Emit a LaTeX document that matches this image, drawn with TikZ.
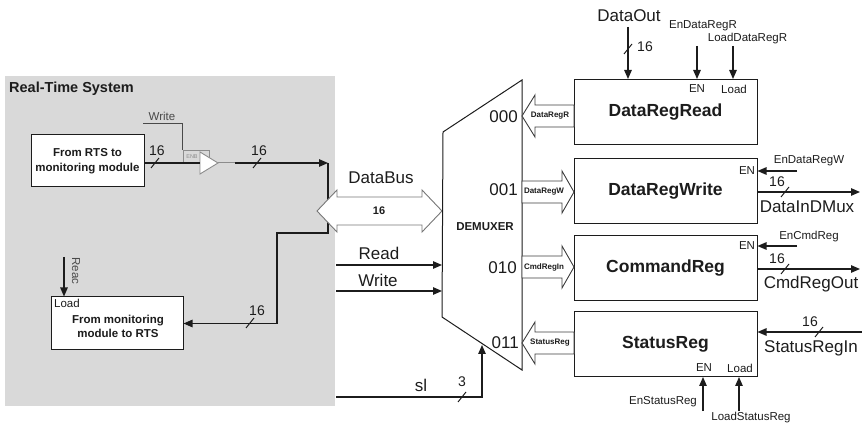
\documentclass[tikz,border=0pt]{standalone}
\usepackage{fontspec}
\setmainfont{Liberation Sans}
\usetikzlibrary{arrows.meta}
\definecolor{rtsgray}{RGB}{217,217,217}
\definecolor{ink}{RGB}{28,28,28}
\definecolor{soft}{RGB}{140,140,140}
\newcommand\szbig{\fontsize{17}{20}\selectfont}
\newcommand\szreg{\bfseries\fontsize{17.5}{20}\selectfont}
\newcommand\szmid{\fontsize{14}{16}\selectfont}
\newcommand\szsmall{\fontsize{11.5}{13}\selectfont}
\newcommand\szhollow{\bfseries\fontsize{8}{9}\selectfont}
% hollow bus arrows: tip/tail x, centre y, label
\newcommand\hollowleft[3]{%
  \draw[hollow] (#1,#2) -- ++(13,-21) -- ++(0,10) -- ++(39,0) -- ++(0,22)
    -- ++(-39,0) -- ++(0,10) -- cycle;
  \node[txt,font=\szhollow] at (#1+28,#2) {#3};}
\newcommand\hollowright[3]{%
  \draw[hollow] (#1,#2-11) -- ++(40,0) -- ++(0,-10) -- ++(12,21) -- ++(-12,21)
    -- ++(0,-10) -- ++(-40,0) -- cycle;
  \node[txt,font=\szhollow] at (#1+22,#2) {#3};}
\begin{document}
\begin{tikzpicture}[x=1pt,y=-1pt,
  txt/.style={inner sep=0pt,text=ink},
  wire/.style={draw=ink,line width=1.2pt},
  arr/.style={wire,-{Triangle[length=9pt,width=7.5pt]}},
  box/.style={draw=ink,line width=1pt,fill=white,inner sep=0pt},
  regbox/.style={box,minimum width=183pt,minimum height=65pt,font=\szreg,text=ink},
  hollow/.style={draw=ink!85,line width=0.9pt,fill=white,line join=miter},
  bustick/.pic={\draw[ink,line width=1pt] (-4,5) -- (4,-5);}]
\useasboundingbox (0,0) rectangle (862,427);

% ---------------- real-time system ----------------
\fill[rtsgray] (5,76) rectangle (335,406);
\node[txt,anchor=base west,font=\bfseries\fontsize{14.5}{16}\selectfont] (rtstitle) at (9,93) {Real-Time System};

\node[box,minimum width=113pt,minimum height=52pt,align=center,
      font=\bfseries\fontsize{11.5}{15}\selectfont,text=ink] (rts) at (87.5,161) {From RTS to\\monitoring module};
\node[box,minimum width=132pt,minimum height=53pt] (mtr) at (117,323.5) {};
\node[txt,align=center,font=\bfseries\fontsize{11.5}{14}\selectfont] (mtrtext) at (118,326) {From monitoring\\module to RTS};
\node[txt,font=\szsmall] (mtrload) at (67,303) {Load};

% read strobe into the lower box
\coordinate (reacin) at (64,257);
\draw[arr] (reacin) -- (reacin |- mtr.north);
\node[txt,rotate=-90,font=\szsmall,text=ink!80] (reaclbl) at (76,271) {Reac};

% tri-state buffer with enable
\coordinate (bufin) at (200,163);
\coordinate (bufout) at (218,163);
\coordinate (busin) at (235,163);
\draw[soft,line width=0.8pt] (183,150) rectangle (209,163);
\node[txt,font=\fontsize{5.5}{6}\selectfont,text=soft] (enblbl) at (192,157) {ENB};
\draw[soft,line width=0.9pt,fill=white] (bufin |- 0,152) -- (bufout) -- (bufin |- 0,174) -- cycle;
\node[txt,font=\szsmall,text=ink!80] (wrlbl) at (162,116) {Write};
\draw[ink!80,line width=1pt] (143,124) -- (182.5,124) -- (182.5,150);

% data path through the system
\coordinate (j1) at (328,163);
\coordinate (j2) at (328,233);
\coordinate (j3) at (277,233);
\draw[wire] (rts.east |- bufin) -- (bufin);
\draw[soft,line width=1pt] (bufout) -- (busin);
\draw[arr] (busin) -- (j1);
\draw[arr] (j1) -- (j2) -- (j3) |- (mtr.east);
\pic at (155,163) {bustick};
\node[txt,font=\szmid] (w1) at (157,151) {16};
\pic at (257,163) {bustick};
\node[txt,font=\szmid] (w2) at (259,151) {16};
\pic at (250,323) {bustick};
\node[txt,font=\szmid] (w3) at (257,311) {16};

% ---------------- data bus ----------------
\draw[draw=ink!60,line width=0.9pt,fill=white] (317,211) -- (337,190) -- (337,197) -- (422,197) -- (422,190)
  -- (442,211) -- (422,232) -- (422,225) -- (337,225) -- (337,232) -- cycle;
\node[txt,font=\szbig] (dblbl) at (381,178) {DataBus};
\node[txt,font=\bfseries\fontsize{11}{12}\selectfont] (dbw) at (379,211) {16};

% ---------------- demultiplexer ----------------
\coordinate (dmtl) at (443,132);
\coordinate (dmtr) at (522,80);
\coordinate (dmbr) at (522,370);
\coordinate (dmbl) at (442,317);
\draw[ink,line width=1pt,line join=miter] (dmtl) -- (dmtr) -- (dmbr) -- (dmbl) -- cycle;
\node[txt,font=\bfseries\fontsize{11.5}{13}\selectfont] (dmlbl) at (485,227) {DEMUXER};
\node[txt,font=\szbig,anchor=east] (s0) at (518,117) {000};
\node[txt,font=\szbig,anchor=east] (s1) at (518,190) {001};
\node[txt,font=\szbig,anchor=east] (s2) at (517,268) {010};
\node[txt,font=\szbig,anchor=east] (s3) at (519,343) {011};

\coordinate (rdin) at (336,265);
\coordinate (wrin) at (336,291);
\draw[arr] (rdin) -- (rdin -| dmbl);
\draw[arr] (wrin) -- (wrin -| dmbl);
\node[txt,font=\szbig] (rdlbl) at (379,253) {Read};
\node[txt,font=\szbig] (wrbl) at (378,280) {Write};

\coordinate (slin) at (336,397);
\coordinate (slup) at (482,345);
\draw[arr] (slin) -| (slup);
\node[txt,font=\szbig] (sllbl) at (421,385) {sl};
\pic at (462,397) {bustick};
\node[txt,font=\szmid] (slw) at (462,382) {3};

% ---------------- registers ----------------
\node[regbox] (drr) at (665.5,112) {DataRegRead};
\node[regbox] (drw) at (665.5,191) {DataRegWrite};
\node[regbox] (cmr) at (665.5,268) {CommandReg};
\node[regbox] (str) at (665.5,344) {StatusReg};

\hollowleft{522}{116}{DataRegR}
\hollowright{522}{192}{DataRegW}
\hollowright{522}{267}{CmdRegIn}
\hollowleft{522}{343}{StatusReg}

% DataRegRead inputs
\coordinate (dout) at (628,27);
\coordinate (enr) at (697,46);
\coordinate (ldr) at (733,46);
\node[txt,font=\szbig] (doutlbl) at (629,16) {DataOut};
\draw[arr] (dout) -- (dout |- drr.north);
\pic at (628,49) {bustick};
\node[txt,font=\szmid] (doutw) at (645,47) {16};
\node[txt,font=\szsmall] (enrlbl) at (703,26) {EnDataRegR};
\node[txt,font=\szsmall] (ldrlbl) at (747.5,39) {LoadDataRegR};
\draw[arr] (enr) -- (enr |- drr.north);
\draw[arr] (ldr) -- (ldr |- drr.north);
\node[txt,font=\szsmall] (enrin) at (697,89) {EN};
\node[txt,font=\szsmall] (ldrin) at (734,89) {Load};

% DataRegWrite
\coordinate (enw) at (797,171);
\coordinate (dinout) at (860,192);
\draw[arr] (enw) -- (enw -| drw.east);
\node[txt,font=\szsmall] (enwin) at (747,171) {EN};
\node[txt,font=\szsmall] (enwlbl) at (809,161) {EnDataRegW};
\draw[arr] (drw.east |- dinout) -- (dinout);
\pic at (785,192) {bustick};
\node[txt,font=\szmid] (dinw) at (777,182) {16};
\node[txt,font=\szbig] (dinlbl) at (807,207) {DataInDMux};

% CommandReg
\coordinate (enc) at (797,246);
\coordinate (cmdout) at (860,269);
\draw[arr] (enc) -- (enc -| cmr.east);
\node[txt,font=\szsmall] (encin) at (747,246) {EN};
\node[txt,font=\szsmall] (enclbl) at (809,237) {EnCmdReg};
\draw[arr] (cmr.east |- cmdout) -- (cmdout);
\pic at (785,269) {bustick};
\node[txt,font=\szmid] (cmdw) at (777,259) {16};
\node[txt,font=\szbig] (cmdlbl) at (811,284) {CmdRegOut};

% StatusReg
\coordinate (stin) at (862,332);
\draw[arr] (stin) -- (stin -| str.east);
\pic at (819,332) {bustick};
\node[txt,font=\szmid] (stw) at (810,322) {16};
\node[txt,font=\szbig] (stlbl) at (811,348) {StatusRegIn};
\coordinate (ens) at (703,411);
\coordinate (lds) at (739,411);
\draw[arr] (ens) -- (ens |- str.south);
\draw[arr] (lds) -- (lds |- str.south);
\node[txt,font=\szsmall] (ensin) at (704,368) {EN};
\node[txt,font=\szsmall] (ldsin) at (740,368) {Load};
\node[txt,font=\szsmall] (enslbl) at (663,402) {EnStatusReg};
\node[txt,font=\szsmall] (ldslbl) at (751,418) {LoadStatusReg};
\end{tikzpicture}
\end{document}
